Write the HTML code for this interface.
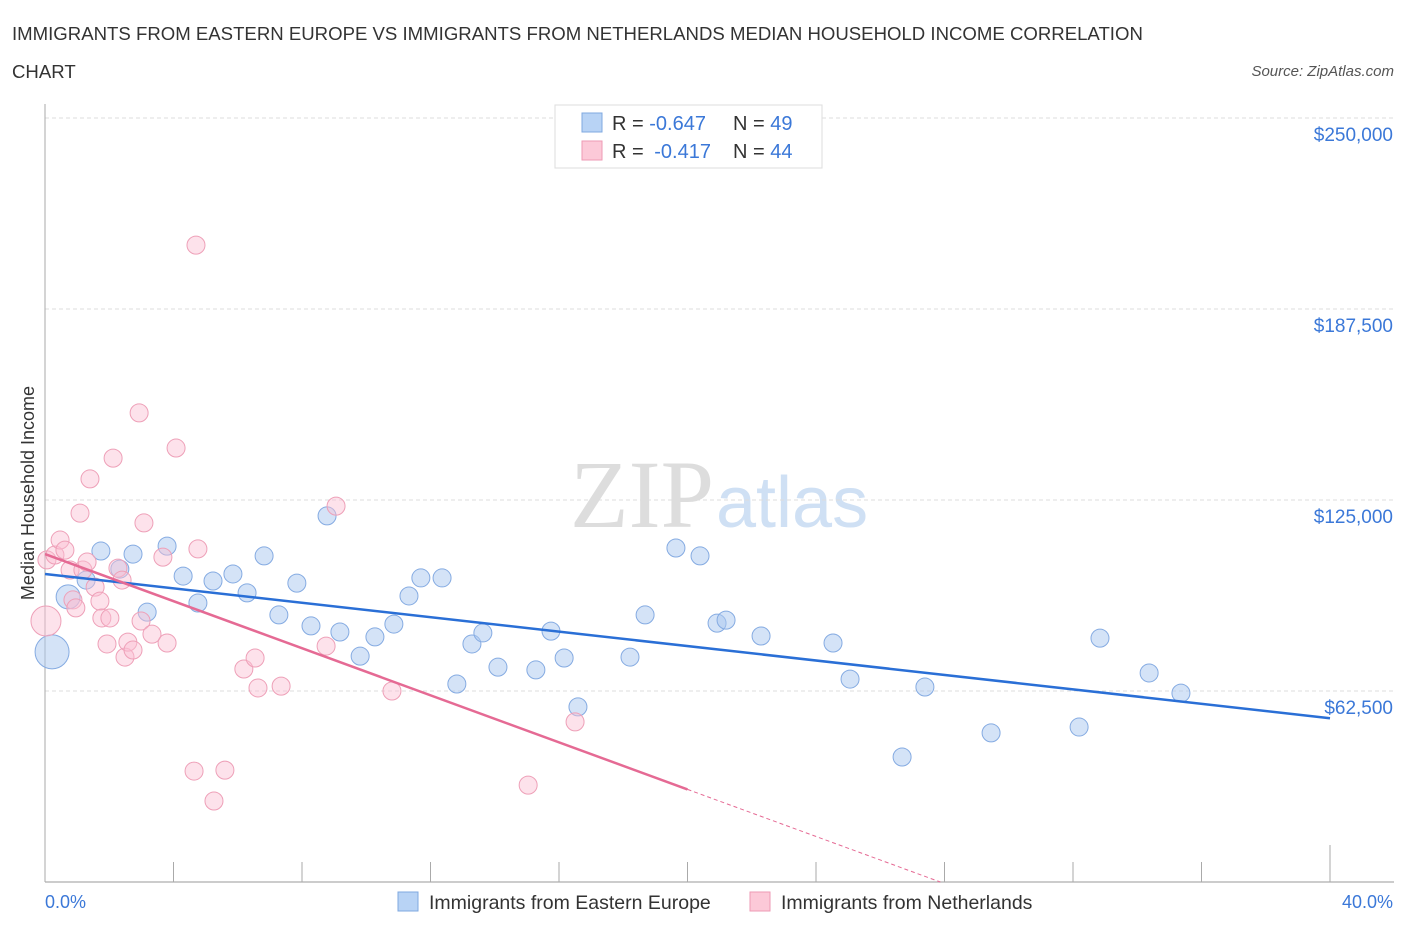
<!DOCTYPE html>
<html><head><meta charset="utf-8"><style>
body{margin:0;background:#fff;font-family:"Liberation Sans",sans-serif;}
svg text{font-family:"Liberation Sans",sans-serif;}
</style></head><body>
<svg width="1406" height="930" xmlns="http://www.w3.org/2000/svg">
<text x="12" y="40" font-size="18.6" fill="#333">IMMIGRANTS FROM EASTERN EUROPE VS IMMIGRANTS FROM NETHERLANDS MEDIAN HOUSEHOLD INCOME CORRELATION</text>
<text x="12" y="78" font-size="18.6" fill="#333">CHART</text>
<text x="1394" y="76" font-size="15" fill="#555" font-style="italic" text-anchor="end">Source: ZipAtlas.com</text>
<text x="714" y="527" font-size="96" fill="#ddd" text-anchor="end" style="font-family:'Liberation Serif',serif">ZIP</text>
<text x="716" y="527" font-size="72" fill="#cfe0f4">atlas</text>
<g id="grid"></g>
<g id="axes"></g>
<g id="marks"></g>
<text transform="translate(34,493) rotate(-90)" font-size="18" fill="#333" text-anchor="middle">Median Household Income</text>
<text x="45" y="908" font-size="18" fill="#3b78d8">0.0%</text>
<text x="1393" y="908" font-size="18" fill="#3b78d8" text-anchor="end">40.0%</text>
<g>
<rect x="555" y="105" width="267" height="63" fill="#fff" stroke="#ddd"/>
<rect x="582" y="113" width="20" height="19" fill="#b8d3f5" stroke="#7fa8e0"/>
<rect x="582" y="141" width="20" height="19" fill="#fcc9d8" stroke="#ee9ab4"/>
<text x="612" y="130" font-size="20" fill="#333">R = <tspan fill="#3b78d8">-0.647</tspan><tspan x="733">N = </tspan><tspan fill="#3b78d8">49</tspan></text>
<text x="612" y="158" font-size="20" fill="#333">R = <tspan fill="#3b78d8" dx="5">-0.417</tspan><tspan x="733">N = </tspan><tspan fill="#3b78d8">44</tspan></text>
</g>
<g>
<rect x="398" y="892" width="20" height="19" fill="#b8d3f5" stroke="#7fa8e0"/>
<text x="429" y="909" font-size="19.5" fill="#333">Immigrants from Eastern Europe</text>
<rect x="750" y="892" width="20" height="19" fill="#fcc9d8" stroke="#ee9ab4"/>
<text x="781" y="909" font-size="19.5" fill="#333">Immigrants from Netherlands</text>
</g>
</svg>
<script>
const yTicks=[62500,125000,187500,250000];
const yTickLabels=["$62,500","$125,000","$187,500","$250,000"];
const xTicks=[0,4,8,12,16,20,24,28,32,36,40];
const bluePct=[0.72,0.22,1.74,1.28,2.74,2.33,3.18,3.80,4.30,4.76,5.23,5.85,6.29,6.82,7.28,7.84,8.28,8.78,9.18,9.81,10.27,10.86,11.33,11.70,12.36,12.82,13.29,13.63,14.10,15.28,15.75,16.16,16.59,18.21,18.68,19.64,20.39,20.92,21.20,22.29,24.53,25.06,27.39,26.68,29.45,32.19,32.84,34.37,35.36];
const blueInc=[93.3,75.3,108.3,98.8,107.3,102.4,88.3,109.9,100.1,91.3,98.5,100.8,94.6,106.7,87.4,97.8,83.8,119.8,81.8,73.9,80.2,84.4,93.6,99.5,99.5,64.8,77.9,81.5,70.3,69.4,82.1,73.3,57.3,73.6,87.4,109.3,106.7,84.7,85.7,80.5,78.2,66.4,63.8,40.9,48.8,50.7,79.8,68.4,61.8];
const blueSize=[12,17];
const pinkPct=[0.03,0.06,0.31,0.47,0.62,0.78,0.87,0.96,1.09,1.18,1.31,1.40,1.56,1.71,1.77,1.93,2.02,2.12,2.27,2.40,2.49,2.58,2.74,2.93,2.99,3.08,3.33,3.67,3.80,4.08,4.70,4.76,4.64,5.26,5.60,6.19,6.54,6.63,7.35,8.75,9.06,10.80,15.04,16.50];
const pinkInc=[85.4,105.4,107.0,111.9,108.6,102.1,92.3,89.7,120.7,102.1,104.7,131.9,96.5,91.9,86.4,77.9,86.4,138.7,102.7,98.8,73.6,78.5,75.9,153.5,85.4,117.5,81.1,106.3,78.2,142.0,208.4,109.0,36.3,26.5,36.6,69.7,73.3,63.5,64.1,77.2,123.0,62.5,31.7,52.4];
const pinkSize=[15];
const blueTrend=[100.8,53.6];
const pinkTrend=[107.3,-3.85];
const NS='http://www.w3.org/2000/svg';
const X=p=>45+p*32.125;
const Y=v=>882-v/62500*191;
function mk(tag,attrs,parent){const e=document.createElementNS(NS,tag);for(const k in attrs)e.setAttribute(k,attrs[k]);document.getElementById(parent).appendChild(e);return e;}
yTicks.forEach((t,i)=>{
 const l=mk('line',{x1:45,x2:1394,y1:Y(t),y2:Y(t),stroke:'#ddd','stroke-dasharray':'4,3'},'grid');
 
 
 const tx=mk('text',{x:1393,y:Y(t)+23,'font-size':19,fill:'#3b78d8','text-anchor':'end'},'grid');
 tx.textContent=yTickLabels[i];
 
 
});
const ya=mk('line',{x1:45,x2:45,y1:104,y2:882,stroke:'#aaa'},'axes');


const xa=mk('line',{x1:45,x2:1394,y1:882,y2:882,stroke:'#bbb','stroke-width':1.5},'axes');


xTicks.forEach((t,i)=>{
 const tk=mk('line',{x1:X(t),x2:X(t),y1:i==10?845:862,y2:882,stroke:'#aaa'},'axes');
 
 
});
bluePct.forEach((p,i)=>{
 const c=mk('circle',{cx:X(p),cy:Y(blueInc[i]*1000),r:blueSize[i]||9,fill:'rgba(170,200,240,0.5)',stroke:'#85abe2','stroke-width':1},'marks');
 
 
});
pinkPct.forEach((p,i)=>{
 const c=mk('circle',{cx:X(p),cy:Y(pinkInc[i]*1000),r:pinkSize[i]||9,fill:'rgba(250,190,210,0.45)',stroke:'#eea0b8','stroke-width':1},'marks');
 
 
});
const bl=mk('line',{x1:X(0),y1:Y(blueTrend[0]*1000),x2:X(40),y2:Y(blueTrend[1]*1000),stroke:'#2a6fd6','stroke-width':2.5},'marks');


const pe=x=>(pinkTrend[0]+pinkTrend[1]*x)*1000;
const pl=mk('line',{x1:X(0),y1:Y(pe(0)),x2:X(20),y2:Y(pe(20)),stroke:'#e56a94','stroke-width':2.5},'marks');


const x0=-pinkTrend[0]/pinkTrend[1];
const pd=mk('line',{x1:X(20),y1:Y(pe(20)),x2:X(x0),y2:Y(0),stroke:'#e56a94','stroke-width':1,'stroke-dasharray':'4,3'},'marks');


</script>
</body></html>
